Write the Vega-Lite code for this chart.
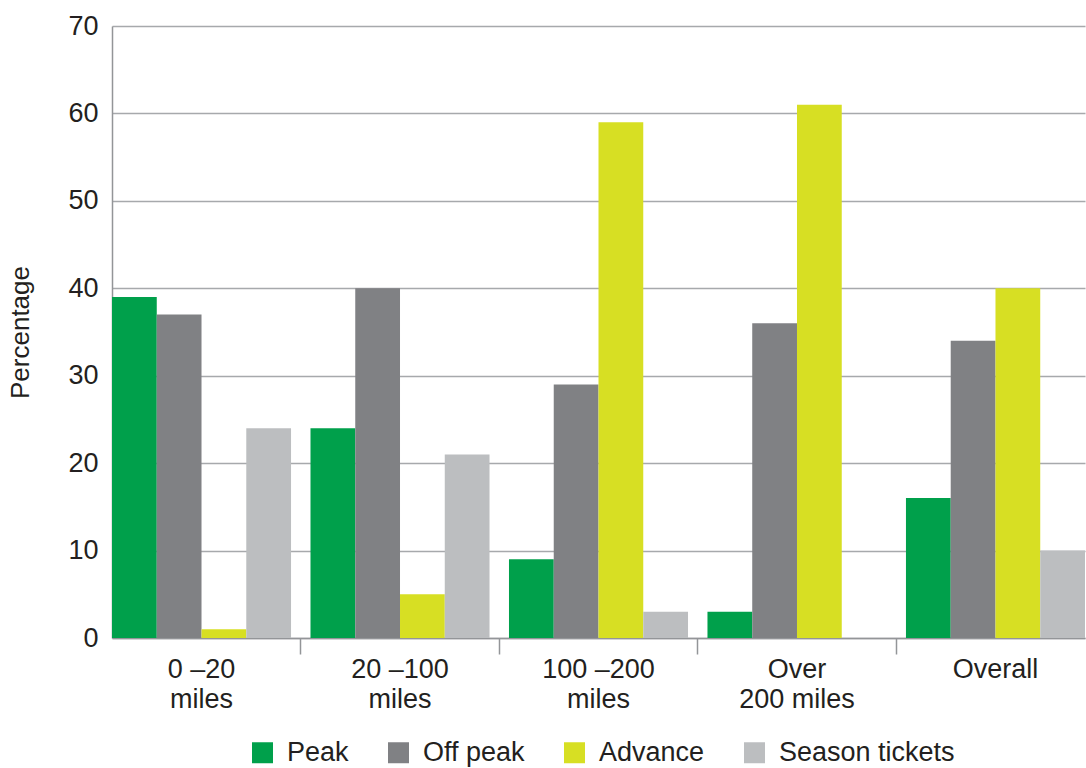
{
  "$schema": "https://vega.github.io/schema/vega-lite/v6.json",
  "width": 973,
  "height": 612,
  "autosize": {"type": "none"},
  "padding": {"left": 112, "top": 26, "right": 1, "bottom": 130},
  "config": {
    "font": "Liberation Sans",
    "view": {"stroke": null},
    "axis": {"labelColor": "#231f20", "titleColor": "#231f20"},
    "legend": {"labelColor": "#231f20"}
  },
  "data": {
    "values": [
      {"group": "0 –20|miles", "type": "Peak", "pct": 39},
      {"group": "0 –20|miles", "type": "Off peak", "pct": 37},
      {"group": "0 –20|miles", "type": "Advance", "pct": 1},
      {"group": "0 –20|miles", "type": "Season tickets", "pct": 24},
      {"group": "20 –100|miles", "type": "Peak", "pct": 24},
      {"group": "20 –100|miles", "type": "Off peak", "pct": 40},
      {"group": "20 –100|miles", "type": "Advance", "pct": 5},
      {"group": "20 –100|miles", "type": "Season tickets", "pct": 21},
      {"group": "100 –200|miles", "type": "Peak", "pct": 9},
      {"group": "100 –200|miles", "type": "Off peak", "pct": 29},
      {"group": "100 –200|miles", "type": "Advance", "pct": 59},
      {"group": "100 –200|miles", "type": "Season tickets", "pct": 3},
      {"group": "Over|200 miles", "type": "Peak", "pct": 3},
      {"group": "Over|200 miles", "type": "Off peak", "pct": 36},
      {"group": "Over|200 miles", "type": "Advance", "pct": 61},
      {"group": "Over|200 miles", "type": "Season tickets", "pct": 0},
      {"group": "Overall", "type": "Peak", "pct": 16},
      {"group": "Overall", "type": "Off peak", "pct": 34},
      {"group": "Overall", "type": "Advance", "pct": 40},
      {"group": "Overall", "type": "Season tickets", "pct": 10}
    ]
  },
  "mark": {"type": "bar"},
  "encoding": {
    "x": {
      "field": "group",
      "type": "nominal",
      "sort": ["0 –20|miles", "20 –100|miles", "100 –200|miles", "Over|200 miles", "Overall"],
      "scale": {"paddingInner": 0.098, "paddingOuter": 0},
      "axis": {
        "title": null,
        "labelAngle": 0,
        "labelExpr": "split(datum.label, '|')",
        "labelFontSize": 27,
        "labelLineHeight": 30,
        "labelPadding": 2,
        "bandPosition": 1.054,
        "tickSize": 16,
        "tickColor": "#939598",
        "tickWidth": 1.5,
        "tickOpacity": {"condition": {"test": "datum.value === 'Overall'", "value": 0}, "value": 1},
        "domainColor": "#939598",
        "domainWidth": 1.5,
        "grid": false
      }
    },
    "xOffset": {
      "field": "type",
      "sort": ["Peak", "Off peak", "Advance", "Season tickets"],
      "scale": {"paddingInner": 0, "paddingOuter": 0}
    },
    "y": {
      "field": "pct",
      "type": "quantitative",
      "scale": {"domain": [0, 70]},
      "axis": {
        "title": "Percentage",
        "titleFontSize": 26,
        "titleFontWeight": "normal",
        "titlePadding": 34,
        "values": [0, 10, 20, 30, 40, 50, 60, 70],
        "labelFontSize": 27,
        "labelPadding": 14,
        "ticks": false,
        "domainColor": "#939598",
        "domainWidth": 1.5,
        "grid": true,
        "gridColor": "#a7a9ac",
        "gridWidth": 1.5
      }
    },
    "color": {
      "field": "type",
      "type": "nominal",
      "scale": {
        "domain": ["Peak", "Off peak", "Advance", "Season tickets"],
        "range": ["#00a04b", "#808184", "#d7df23", "#bcbec0"]
      },
      "legend": {
        "title": null,
        "orient": "none",
        "legendX": 137,
        "legendY": 713,
        "direction": "horizontal",
        "symbolType": "square",
        "symbolSize": 441,
        "symbolStrokeWidth": 0,
        "symbolOpacity": 1,
        "labelFontSize": 27,
        "labelLimit": 0,
        "labelOffset": 11,
        "columnPadding": 36
      }
    }
  }
}
